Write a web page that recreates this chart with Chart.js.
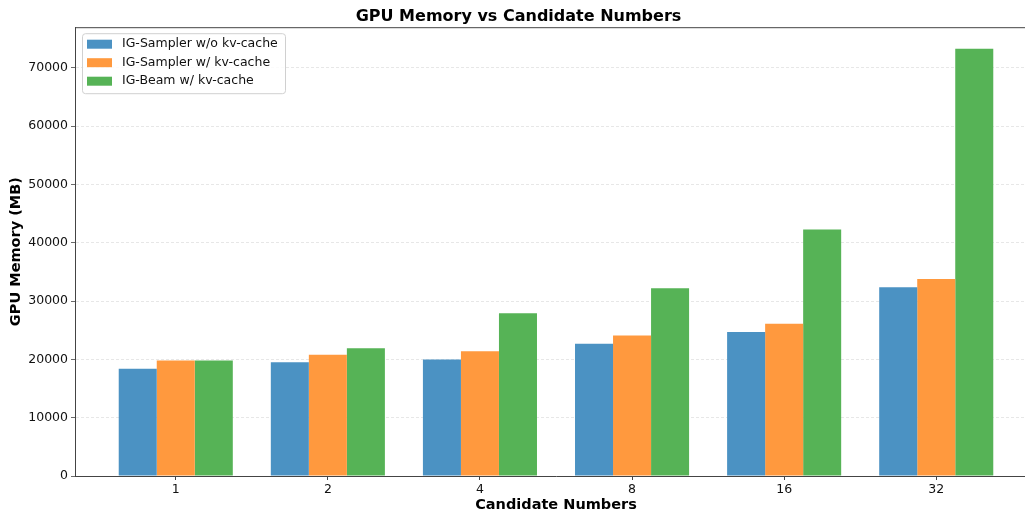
<!DOCTYPE html>
<html>
<head>
<meta charset="utf-8">
<script src="https://cdn.jsdelivr.net/npm/chart.js@4/dist/chart.umd.min.js"></script>
<style>
    html, body { margin: 0; padding: 0; background: #fff; overflow: hidden; }
    #wrap { width: 1040px; height: 514px; }
</style>
</head>
<body>
<div id="wrap"><canvas id="memoryChart" width="1040" height="514"></canvas></div>
<script>
// Candidate counts along the x axis
const candidates = ['1', '2', '4', '8', '16', '32'];

// GPU memory in MB
const samplerNoCache = [18400, 19500, 20000, 22700, 24700, 32400];
const samplerCache = [19800, 20800, 21400, 24100, 26100, 33800];
const beamCache = [19800, 21900, 27900, 32200, 42300, 73300];

const yTicks = [0, 10000, 20000, 30000, 40000, 50000, 60000, 70000];

const font = "'DejaVu Sans', sans-serif";
Chart.defaults.font.family = font;
Chart.defaults.color = '#111';

const toPoints = arr => arr.map((v, i) => ({ x: i, y: v }));

// Draws the top/right frame and the legend box inside the plot
const framePlugin = {
    id: 'framePlugin',
    afterDraw(chart) {
        const { ctx, chartArea: a } = chart;
        ctx.save();
        ctx.strokeStyle = '#444';
        ctx.lineWidth = 1;
        ctx.beginPath();
        ctx.moveTo(a.left, a.top + 0.5);
        ctx.lineTo(a.right, a.top + 0.5);
        ctx.lineTo(a.right, a.bottom);
        ctx.stroke();

        // legend
        const x = a.left + 7, y = a.top + 6, w = 203, h = 60;
        ctx.fillStyle = 'rgba(255,255,255,0.8)';
        ctx.strokeStyle = '#d0d0d0';
        ctx.beginPath();
        ctx.roundRect(x + 0.5, y + 0.5, w, h, 3);
        ctx.fill();
        ctx.stroke();
        ctx.font = '12.5px ' + font;
        ctx.textBaseline = 'middle';
        chart.data.datasets.forEach((ds, i) => {
            const cy = y + 11 + i * 18.5;
            ctx.fillStyle = ds.backgroundColor;
            ctx.fillRect(x + 5, cy - 4.5, 25, 9);
            ctx.fillStyle = '#111';
            ctx.fillText(ds.label, x + 40, cy);
        });
        ctx.restore();
    }
};

const ctx = document.getElementById('memoryChart').getContext('2d');
new Chart(ctx, {
    type: 'bar',
    data: {
        datasets: [
            { label: 'IG-Sampler w/o kv-cache', data: toPoints(samplerNoCache), backgroundColor: 'rgb(75,146,195)' },
            { label: 'IG-Sampler w/ kv-cache', data: toPoints(samplerCache), backgroundColor: 'rgb(255,153,62)' },
            { label: 'IG-Beam w/ kv-cache', data: toPoints(beamCache), backgroundColor: 'rgb(86,179,86)' }
        ]
    },
    options: {
        responsive: false,
        animation: false,
        layout: { padding: { right: 3 } },
        datasets: {
            bar: { categoryPercentage: 0.75, barPercentage: 1, borderWidth: 0 }
        },
        plugins: {
            legend: { display: false },
            tooltip: { enabled: false },
            title: {
                display: true,
                text: 'GPU Memory vs Candidate Numbers',
                color: '#000',
                font: { size: 16, weight: 'bold' },
                padding: { top: 7, bottom: 1 }
            }
        },
        scales: {
            x: {
                type: 'linear',
                offset: false,
                min: -0.6625,
                max: 5.6625,
                afterBuildTicks: axis => {
                    axis.ticks = candidates.map((c, i) => ({ value: i }));
                },
                afterFit: scale => { scale.height = 38; },
                ticks: {
                    callback: value => candidates[value],
                    font: { size: 12.5 },
                    padding: 2,
                    maxRotation: 0
                },
                grid: { offset: false, drawOnChartArea: false, tickColor: '#444', tickLength: 4 },
                border: { color: '#444' },
                title: {
                    display: true,
                    text: 'Candidate Numbers',
                    color: '#000',
                    font: { size: 14.5, weight: 'bold' },
                    padding: { top: 0, bottom: 0 }
                }
            },
            y: {
                min: 0,
                max: 76990,
                afterBuildTicks: axis => {
                    axis.ticks = yTicks.map(v => ({ value: v }));
                },
                afterFit: scale => { scale.width = 75; },
                ticks: {
                    callback: value => String(value),
                    font: { size: 12.5 },
                    padding: 3
                },
                grid: {
                    color: 'rgba(0,0,0,0.12)',
                    lineWidth: 0.8,
                    tickColor: '#444',
                    tickLength: 4,
                    tickBorderDash: []
                },
                border: { color: '#444', dash: [3, 2] },
                title: {
                    display: true,
                    text: 'GPU Memory (MB)',
                    color: '#000',
                    font: { size: 14.5, weight: 'bold' },
                    padding: { top: 8, bottom: 0 }
                }
            }
        }
    },
    plugins: [framePlugin]
});
</script>
</body>
</html>
